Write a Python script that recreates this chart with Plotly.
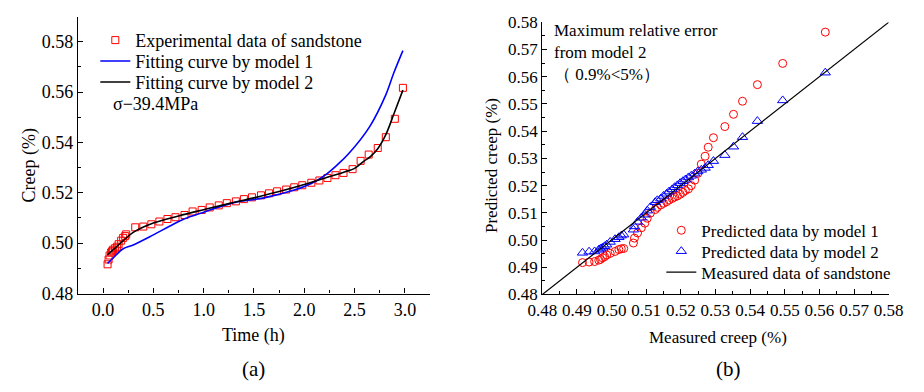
import plotly.graph_objects as go

# ---------------- Data ----------------
# Panel (a): experimental creep data
exp_time = [0.045, 0.055, 0.065, 0.08, 0.09, 0.10, 0.12, 0.14, 0.155, 0.18, 0.20, 0.22, 0.23,
            0.32, 0.40, 0.48, 0.56, 0.64, 0.72, 0.81, 0.89, 0.98, 1.06, 1.15, 1.23, 1.32,
            1.40, 1.48, 1.57, 1.65, 1.73, 1.82, 1.90, 1.98, 2.07, 2.15, 2.23, 2.31, 2.39,
            2.48, 2.56, 2.64, 2.73, 2.81, 2.90, 2.98]
exp_creep = [0.4916, 0.4935, 0.4951, 0.4963, 0.4968, 0.4974, 0.4980, 0.4986, 0.4996, 0.5010,
             0.5021, 0.5028, 0.5035, 0.5063, 0.5066, 0.5075, 0.5086, 0.5096, 0.5103, 0.5112,
             0.5126, 0.5132, 0.5142, 0.5150, 0.5159, 0.5166, 0.5175, 0.5182, 0.5190, 0.5198,
             0.5206, 0.5213, 0.5222, 0.5230, 0.5240, 0.5249, 0.5259, 0.5270, 0.5279, 0.5294,
             0.5327, 0.5352, 0.5378, 0.5421, 0.5494, 0.5617]

# Fitting curve model 1
m1_time = [0.045, 0.1, 0.2, 0.3, 0.5, 0.66, 0.8, 1.0, 1.3, 1.6, 1.9, 2.07, 2.2, 2.33,
           2.44, 2.65, 2.81, 2.89, 2.98]
m1_creep = [0.4920, 0.4941, 0.4978, 0.4993, 0.5033, 0.5067, 0.5095, 0.5123, 0.5161, 0.5180,
            0.5211, 0.5237, 0.5268, 0.5312, 0.5355, 0.5463, 0.5589, 0.5677, 0.5765]

# Fitting curve model 2
m2_time = [0.045, 0.1, 0.2, 0.3, 0.5, 0.75, 1.0, 1.25, 1.5, 1.75, 2.0, 2.2, 2.4, 2.5,
           2.59, 2.66, 2.73, 2.81, 2.89, 2.98]
m2_creep = [0.4954, 0.4973, 0.5010, 0.5043, 0.5080, 0.5108, 0.5133, 0.5157, 0.5180, 0.5205,
            0.5233, 0.5258, 0.5283, 0.5297, 0.5325, 0.5345, 0.5375, 0.5431, 0.5513, 0.5608]

# Panel (b): predicted vs measured
measured = exp_creep
pred_m1 = [0.4917, 0.4919, 0.4921, 0.4926, 0.4929, 0.4935, 0.4939, 0.4945, 0.4951, 0.4958,
           0.4965, 0.4968, 0.4969, 0.4989, 0.5007, 0.5026, 0.5045, 0.5062, 0.5080, 0.5099,
           0.5112, 0.5120, 0.5129, 0.5135, 0.5141, 0.5147, 0.5153, 0.5158, 0.5162, 0.5168,
           0.5175, 0.5182, 0.5188, 0.5200, 0.5220, 0.5245, 0.5279, 0.5308, 0.5341, 0.5376,
           0.5417, 0.5462, 0.5510, 0.5571, 0.5649, 0.5764]
pred_m2 = [0.4953, 0.4957, 0.4958, 0.4964, 0.4968, 0.4972, 0.4977, 0.4983, 0.4993, 0.5003,
           0.5010, 0.5016, 0.5020, 0.5038, 0.5050, 0.5067, 0.5082, 0.5093, 0.5108, 0.5121,
           0.5139, 0.5146, 0.5152, 0.5162, 0.5170, 0.5178, 0.5186, 0.5194, 0.5201, 0.5209,
           0.5216, 0.5222, 0.5230, 0.5236, 0.5244, 0.5252, 0.5258, 0.5265, 0.5275, 0.5290,
           0.5312, 0.5343, 0.5378, 0.5437, 0.5513, 0.5615]
diag = [0.48, 0.58]

a_xticks = [0.0, 0.5, 1.0, 1.5, 2.0, 2.5, 3.0]
a_yticks = [0.48, 0.50, 0.52, 0.54, 0.56, 0.58]
b_ticks = [0.48, 0.49, 0.50, 0.51, 0.52, 0.53, 0.54, 0.55, 0.56, 0.57, 0.58]

FONT = "Liberation Serif, Times New Roman, Times, DejaVu Serif, serif"
W, H = 924, 392

def px_x(p):
    return p / W

def px_y(p):
    return 1 - p / H

fig = go.Figure()

# ---- panel (a)
fig.add_trace(go.Scatter(x=exp_time, y=exp_creep, mode="markers", name="Experimental data of sandstone",
                         marker=dict(symbol="square-open", size=7, color="#FF0000", line=dict(width=1)),
                         xaxis="x", yaxis="y", legend="legend"))
fig.add_trace(go.Scatter(x=m1_time, y=m1_creep, mode="lines", name="Fitting curve by model 1",
                         line=dict(color="#0000FF", width=1.6, shape="spline"),
                         xaxis="x", yaxis="y", legend="legend2"))
fig.add_trace(go.Scatter(x=m2_time, y=m2_creep, mode="lines", name="Fitting curve by model 2",
                         line=dict(color="#000000", width=1.6, shape="spline"),
                         xaxis="x", yaxis="y", legend="legend3"))

# ---- panel (b)
fig.add_trace(go.Scatter(x=measured, y=pred_m1, mode="markers", name="Predicted data by model 1",
                         marker=dict(symbol="circle-open", size=8, color="#FF0000", line=dict(width=1)),
                         xaxis="x2", yaxis="y2", legend="legend4"))
fig.add_trace(go.Scatter(x=measured, y=pred_m2, mode="markers", name="Predicted data by model 2",
                         marker=dict(symbol="triangle-up-open", size=9, color="#0000FF", line=dict(width=1)),
                         xaxis="x2", yaxis="y2", legend="legend5"))
fig.add_trace(go.Scatter(x=diag, y=diag, mode="lines", name="Measured data of sandstone",
                         line=dict(color="#000000", width=1.2),
                         xaxis="x2", yaxis="y2", legend="legend6"))

axis_common = dict(showline=True, linecolor="black", linewidth=1.3, mirror=False, showgrid=False,
                   zeroline=False, ticks="inside", ticklen=5, tickwidth=1.2, tickcolor="black")

def leg(xp, yp, size):
    return dict(x=px_x(xp), y=px_y(yp), xanchor="left", yanchor="middle", bgcolor="rgba(0,0,0,0)",
                font=dict(family=FONT, size=size, color="black"), itemwidth=30, borderwidth=0)

fig.update_layout(
    width=W, height=H, margin=dict(l=0, r=0, t=0, b=0),
    paper_bgcolor="white", plot_bgcolor="white",
    font=dict(family=FONT, size=18, color="black"),
    xaxis=dict(domain=[px_x(65), px_x(429)], range=[-0.25, 3.25], anchor="y",
               tickvals=a_xticks, ticktext=[f"{v:.1f}" for v in a_xticks],
               minor=dict(dtick=0.25, tick0=0, ticks="inside", ticklen=3, tickcolor="black"),
               tickfont=dict(family=FONT, size=18, color="black"), **axis_common),
    yaxis=dict(domain=[px_y(299), px_y(8)], range=[0.48, 0.59], anchor="x",
               tickvals=a_yticks, ticktext=[f"{v:.2f}" for v in a_yticks],
               minor=dict(dtick=0.01, tick0=0.48, ticks="inside", ticklen=3, tickcolor="black"),
               tickfont=dict(family=FONT, size=18, color="black"), **axis_common),
    xaxis2=dict(domain=[px_x(545), px_x(903)], range=[0.48, 0.58], anchor="y2",
                tickvals=b_ticks, ticktext=[f"{v:.2f}" for v in b_ticks],
                minor=dict(dtick=0.005, tick0=0.48, ticks="inside", ticklen=3, tickcolor="black"),
                tickfont=dict(family=FONT, size=17, color="black"), **axis_common),
    yaxis2=dict(domain=[px_y(300), px_y(14)], range=[0.48, 0.58], anchor="x2",
                tickvals=b_ticks, ticktext=[f"{v:.2f}" for v in b_ticks],
                minor=dict(dtick=0.005, tick0=0.48, ticks="inside", ticklen=3, tickcolor="black"),
                tickfont=dict(family=FONT, size=17, color="black"), **axis_common),
    legend=leg(83, 33, 18),
    legend2=leg(83, 55, 18),
    legend3=leg(83, 77, 18),
    legend4=leg(668, 233, 17),
    legend5=leg(668, 255, 17),
    legend6=leg(668, 277, 17),
    showlegend=True,
)

annotations = [
    dict(text="σ−39.4MPa", x=px_x(99), y=px_y(100), xanchor="left", yanchor="middle", font=dict(size=18)),
    dict(text="Time (h)", x=px_x(247), y=px_y(343), xanchor="center", yanchor="middle", font=dict(size=18)),
    dict(text="Creep (%)", x=px_x(14), y=px_y(165), xanchor="center", yanchor="middle", textangle=-90,
         font=dict(size=18)),
    dict(text="(a)", x=px_x(247), y=px_y(378), xanchor="center", yanchor="middle", font=dict(size=21)),
    dict(text="Measured creep (%)", x=px_x(727), y=px_y(345), xanchor="center", yanchor="middle",
         font=dict(size=17)),
    dict(text="Predicted creep (%)", x=px_x(492), y=px_y(165), xanchor="center", yanchor="middle",
         textangle=-90, font=dict(size=17)),
    dict(text="(b)", x=px_x(737), y=px_y(378), xanchor="center", yanchor="middle", font=dict(size=21)),
    dict(text="Maximum relative error<br>from model 2<br>（ 0.9%<5%）", x=px_x(555), y=px_y(11),
         xanchor="left", yanchor="top", align="left", font=dict(size=17)),
]
for a in annotations:
    a.update(xref="paper", yref="paper", showarrow=False)
fig.update_layout(annotations=annotations)

fig.write_html("out.html")
